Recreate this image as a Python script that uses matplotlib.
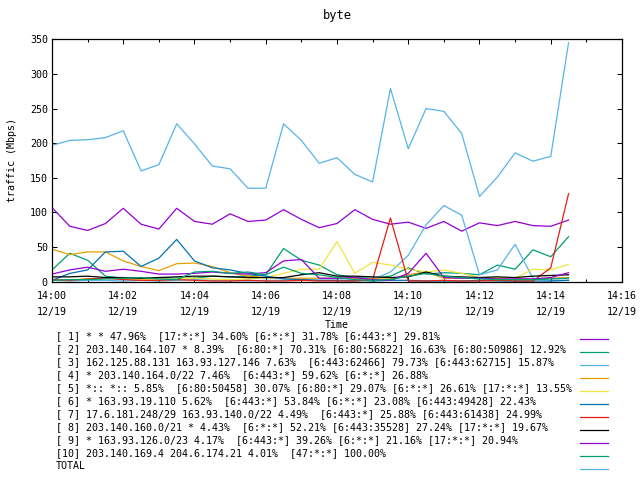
import matplotlib
matplotlib.use('Agg')
import matplotlib.pyplot as plt
import matplotlib.dates as mdates
from matplotlib.lines import Line2D
from datetime import datetime

day = '2013-12-19'
times = ['14:00:00', '14:00:30', '14:01:00', '14:01:30', '14:02:00', '14:02:30',
         '14:03:00', '14:03:30', '14:04:00', '14:04:30', '14:05:00', '14:05:30',
         '14:06:00', '14:06:30', '14:07:00', '14:07:30', '14:08:00', '14:08:30',
         '14:09:00', '14:09:30', '14:10:00', '14:10:30', '14:11:00', '14:11:30',
         '14:12:00', '14:12:30', '14:13:00', '14:13:30', '14:14:00', '14:14:30']
t = [datetime.strptime(day + ' ' + s, '%Y-%m-%d %H:%M:%S') for s in times]

# traffic in Mbps per flow group
s1 = [107, 80, 74, 84, 106, 83, 76, 106, 87, 83, 98, 87, 89, 104, 90,
      78, 84, 104, 90, 83, 86, 77, 87, 73, 85, 81, 87, 81, 80, 89]
s2 = [17, 41, 31, 8, 5, 4, 6, 5, 5, 8, 7, 8, 10, 48, 31,
      24, 10, 6, 5, 8, 20, 11, 13, 12, 10, 24, 18, 46, 36, 65]
s3 = [2, 1, 2, 2, 1, 2, 1, 2, 3, 2, 2, 1, 2, 2, 3,
      2, 2, 1, 3, 14, 38, 82, 110, 96, 10, 17, 54, 5, 2, 2]
s4 = [47, 39, 43, 43, 30, 22, 16, 26, 27, 22, 13, 8, 6, 5, 5,
      5, 5, 5, 4, 4, 10, 14, 5, 5, 6, 5, 4, 4, 5, 6]
s5 = [3, 3, 4, 5, 4, 3, 3, 4, 5, 4, 3, 4, 6, 12, 18,
      18, 58, 12, 28, 24, 18, 14, 17, 12, 6, 6, 5, 18, 17, 25]
s6 = [2, 12, 17, 43, 44, 22, 34, 61, 30, 20, 17, 12, 8, 4, 3,
      2, 2, 2, 1, 2, 2, 1, 1, 1, 2, 1, 1, 1, 1, 2]
s7 = [3, 2, 4, 5, 3, 2, 2, 3, 2, 1, 1, 2, 1, 1, 2,
      1, 1, 1, 3, 92, 1, 1, 2, 1, 1, 2, 1, 1, 20, 127]
s8 = [7, 7, 8, 6, 6, 5, 6, 7, 8, 8, 7, 6, 6, 6, 10,
      13, 8, 8, 7, 6, 7, 14, 8, 7, 6, 7, 6, 8, 9, 10]
s9 = [11, 17, 21, 15, 18, 15, 11, 11, 12, 14, 12, 11, 13, 30, 32,
      5, 5, 6, 3, 2, 12, 41, 6, 5, 5, 4, 4, 4, 6, 13]
s10 = [2, 3, 3, 4, 5, 6, 4, 3, 14, 15, 12, 14, 10, 21, 12,
       10, 6, 3, 2, 3, 8, 12, 8, 6, 4, 3, 3, 3, 4, 5]
total = [197, 204, 205, 208, 218, 160, 169, 228, 199, 167, 163, 135, 135, 228, 204,
         171, 179, 155, 144, 279, 192, 250, 246, 214, 123, 151, 186, 174, 181, 345]

labels = [
    '[ 1] * * 47.96%  [17:*:*] 34.60% [6:*:*] 31.78% [6:443:*] 29.81%',
    '[ 2] 203.140.164.107 * 8.39%  [6:80:*] 70.31% [6:80:56822] 16.63% [6:80:50986] 12.92%',
    '[ 3] 162.125.88.131 163.93.127.146 7.63%  [6:443:62466] 79.73% [6:443:62715] 15.87%',
    '[ 4] * 203.140.164.0/22 7.46%  [6:443:*] 59.62% [6:*:*] 26.88%',
    '[ 5] *:: *:: 5.85%  [6:80:50458] 30.07% [6:80:*] 29.07% [6:*:*] 26.61% [17:*:*] 13.55%',
    '[ 6] * 163.93.19.110 5.62%  [6:443:*] 53.84% [6:*:*] 23.08% [6:443:49428] 22.43%',
    '[ 7] 17.6.181.248/29 163.93.140.0/22 4.49%  [6:443:*] 25.88% [6:443:61438] 24.99%',
    '[ 8] 203.140.160.0/21 * 4.43%  [6:*:*] 52.21% [6:443:35528] 27.24% [17:*:*] 19.67%',
    '[ 9] * 163.93.126.0/23 4.17%  [6:443:*] 39.26% [6:*:*] 21.16% [17:*:*] 20.94%',
    '[10] 203.140.169.4 204.6.174.21 4.01%  [47:*:*] 100.00%',
    'TOTAL',
]
series = [s1, s2, s3, s4, s5, s6, s7, s8, s9, s10, total]
colors = ['#9400d3', '#009e73', '#56b4e9', '#e69f00', '#f0e442', '#0072b2',
          '#e51e10', '#000000', '#9400d3', '#009e73', '#56b4e9']

plt.rcParams['font.family'] = ['DejaVu Sans Mono']
plt.rcParams['font.size'] = 7.2

W, H = 640, 480
fig = plt.figure(figsize=(6.4, 4.8), dpi=100)
ax = fig.add_axes([52 / W, 1 - 281.7 / H, 570 / W, (281.7 - 39.3) / H])

for y, c in zip(series, colors):
    ax.plot(t, y, color=c, lw=0.9)

ax.set_xlim(datetime(2013, 12, 19, 14, 0), datetime(2013, 12, 19, 14, 16))
ax.set_ylim(0, 350)
ax.set_yticks(range(0, 351, 50))
ax.xaxis.set_major_locator(mdates.MinuteLocator(byminute=range(0, 60, 2)))
ax.xaxis.set_minor_locator(mdates.MinuteLocator())
ax.xaxis.set_major_formatter(mdates.DateFormatter('%H:%M\n%m/%d'))
for lab in ax.get_xticklabels():
    lab.set_linespacing(1.75)
ax.tick_params(which='both', direction='in', top=True, right=True, width=0.75)
ax.tick_params(which='major', length=3.4, pad=3)
ax.tick_params(which='minor', length=2.2)
ax.tick_params(axis='x', pad=7)
for sp in ax.spines.values():
    sp.set_linewidth(0.9)

ax.set_title('byte', pad=14.5)
fig.text(337 / W, 1 - 325 / H, 'Time', ha='center', va='center')
fig.text(12 / W, 1 - 160 / H, 'traffic (Mbps)', ha='center', va='center', rotation=90)

# key below the plot, text left, sample line right
for k, (lab, c) in enumerate(zip(labels, colors)):
    ty = 336.3 + 12.95 * k
    ly = 339.3 + 12.95 * k
    fig.text(56 / W, 1 - ty / H, lab, ha='left', va='center')
    fig.add_artist(Line2D([580 / W, 608 / W], [1 - ly / H, 1 - ly / H],
                          color=c, lw=0.9, transform=fig.transFigure))

fig.savefig('out.png', dpi=100)
